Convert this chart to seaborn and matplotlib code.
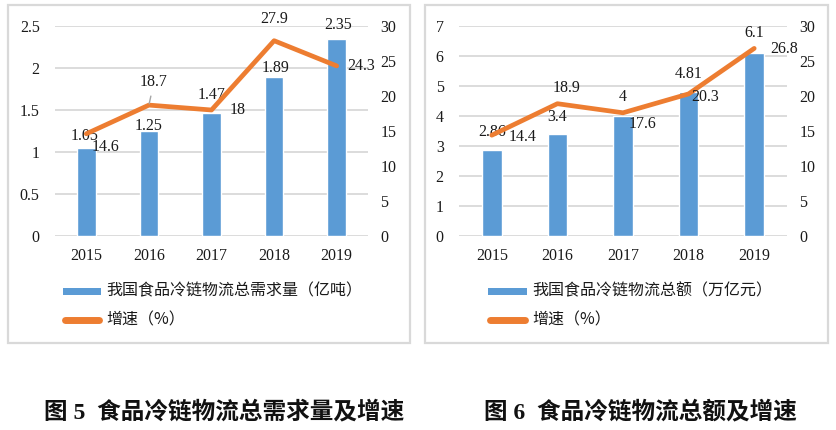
import numpy as np
import pandas as pd
import matplotlib
matplotlib.use('Agg')
import matplotlib.pyplot as plt
import seaborn as sns
from matplotlib.lines import Line2D
from matplotlib.patches import Rectangle
from matplotlib.ticker import FuncFormatter, MultipleLocator

# ---------------- data ----------------
years = ['2015', '2016', '2017', '2018', '2019']
demand = [1.05, 1.25, 1.47, 1.89, 2.35]          # 亿吨
demand_growth = [14.6, 18.7, 18.0, 27.9, 24.3]   # %
total_value = [2.86, 3.4, 4.0, 4.81, 6.1]        # 万亿元
value_growth = [14.4, 18.9, 17.6, 20.3, 26.8]    # %

bar_label_1 = '我国食品冷链物流总需求量（亿吨）'
bar_label_2 = '我国食品冷链物流总额（万亿元）'
line_label = '增速（%）'
caption_1 = '图 5  食品冷链物流总需求量及增速'
caption_2 = '图 6  食品冷链物流总额及增速'

# ---------------- style ----------------
W, H = 836, 430
BLUE = '#5B9BD5'
ORANGE = '#ED7D31'
GRID = '#D9D9D9'
TXT = '#1a1a1a'
FS = 11.5

sns.set_theme(style='white')
plt.rcParams['font.family'] = ['Liberation Serif', 'Noto Sans CJK SC', 'DejaVu Sans']
CJK = ['Noto Sans CJK SC', 'DejaVu Sans']

fig = plt.figure(figsize=(W / 100, H / 100), dpi=100)


def fx(px):
    return px / W


def fy(py):
    return 1 - py / H


def fmt(v, _=None):
    return '%g' % v


def panel(box, axbox, vals, growth, ymax, ystep, bar_label, caption, cap_x,
          bar_offs, line_offs, leg_x, leader_idx=None):
    x0, y0, x1, y1 = box
    fig.add_artist(Rectangle((fx(x0), fy(y1)), fx(x1 - x0), (y1 - y0) / H,
                             transform=fig.transFigure, fill=False,
                             ec=GRID, lw=1.6))
    l, t, r, b = axbox
    ax = fig.add_axes([fx(l), fy(b), fx(r - l), (b - t) / H])
    df = pd.DataFrame({'year': years, 'v': vals, 'g': growth,
                       'i': np.arange(len(years))})
    sns.barplot(data=df, x='year', y='v', color=BLUE, width=0.3,
                saturation=1, ax=ax, zorder=2)
    ax.set_ylim(0, ymax)
    ax.yaxis.set_major_locator(MultipleLocator(ystep))
    ax.yaxis.set_major_formatter(FuncFormatter(fmt))
    ax.yaxis.grid(True, color=GRID, lw=1.3)
    ax.set_axisbelow(True)
    for s in ax.spines.values():
        s.set_visible(False)
    ax.set_xlabel('')
    ax.set_ylabel('')
    ax.tick_params(axis='y', length=0, pad=11, labelsize=FS, labelcolor=TXT)
    ax.tick_params(axis='x', length=0, pad=8.5, labelsize=FS, labelcolor=TXT)

    ax2 = ax.twinx()
    sns.lineplot(data=df, x='i', y='g', color=ORANGE, lw=3.4, ax=ax2,
                 solid_capstyle='round', solid_joinstyle='round')
    ax2.set_ylim(0, 30)
    ax2.yaxis.set_major_locator(MultipleLocator(5))
    ax2.yaxis.set_major_formatter(FuncFormatter(fmt))
    for s in ax2.spines.values():
        s.set_visible(False)
    ax2.set_xlabel('')
    ax2.set_ylabel('')
    ax2.tick_params(axis='y', length=0, pad=9, labelsize=FS, labelcolor=TXT)
    ax.set_xlim(-0.5, len(years) - 0.5)

    for i, v in enumerate(vals):
        dx, dy = bar_offs[i]
        ax.annotate(fmt(v), xy=(i, v), xytext=(dx, dy),
                    textcoords='offset pixels', ha='center', va='center',
                    fontsize=FS, color=TXT, zorder=5)
    for i, g in enumerate(growth):
        dx, dy = line_offs[i]
        kw = {}
        if leader_idx == i:
            kw['arrowprops'] = dict(arrowstyle='-', color='#A6A6A6', lw=1,
                                    shrinkA=2, shrinkB=1)
        ax2.annotate(fmt(g), xy=(i, g), xytext=(dx, dy),
                     textcoords='offset pixels', ha='center', va='center',
                     fontsize=FS, color=TXT, zorder=5, **kw)

    # legend (drawn in figure space)
    lx0, lx1 = leg_x
    fig.add_artist(Rectangle((fx(lx0), fy(294.5)), fx(lx1 - lx0), 7 / H,
                             transform=fig.transFigure, color=BLUE, lw=0))
    fig.add_artist(Line2D([fx(lx0 + 2), fx(lx1 - 2)], [fy(320), fy(320)],
                          transform=fig.transFigure, color=ORANGE, lw=5,
                          solid_capstyle='round'))
    fig.text(fx(lx1 + 5), fy(291), bar_label, family=CJK, fontsize=11.5,
             ha='left', va='center', color=TXT)
    fig.text(fx(lx1 + 5), fy(320), line_label, family=CJK, fontsize=11.5,
             ha='left', va='center', color=TXT)

    fig.text(fx(cap_x), fy(412), caption,
             family=['Liberation Serif', 'Noto Sans CJK SC'],
             fontweight='bold', fontsize=17, ha='center', va='center',
             color='#111111')
    return ax, ax2


panel(box=(8, 5, 410, 343), axbox=(55, 26, 368, 236),
      vals=demand, growth=demand_growth, ymax=2.5, ystep=0.5,
      bar_label=bar_label_1, caption=caption_1, cap_x=224,
      bar_offs=[(-2, 12), (0, 5), (0, 17.5), (1.5, 9), (1.5, 13.6)],
      line_offs=[(19, -13), (5, 23), (26, 0), (0, 22), (24, 0)],
      leg_x=(63, 101), leader_idx=1)

panel(box=(425, 5, 828, 343), axbox=(459, 26, 787, 236),
      vals=total_value, growth=value_growth, ymax=7, ystep=1,
      bar_label=bar_label_2, caption=caption_2, cap_x=640,
      bar_offs=[(0, 18.5), (0, 16.7), (0, 18.7), (0, 17.7), (0, 19.7)],
      line_offs=[(31, -1.5), (9, 16), (20, -11), (17, -3.4), (30, -1)],
      leg_x=(488, 527))

fig.savefig('out.png', dpi=100, facecolor='white')
